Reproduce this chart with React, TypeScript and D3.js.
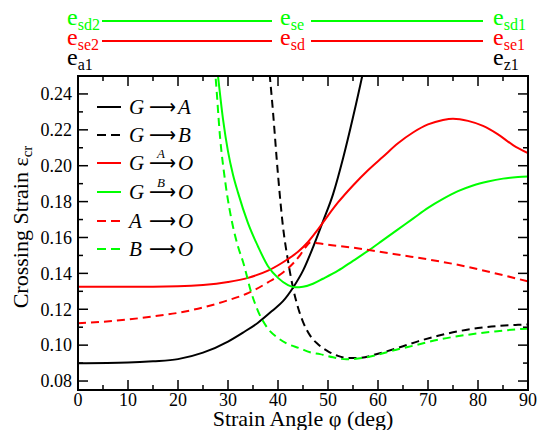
import React from 'react';
import * as d3 from 'd3';

const W = 546;
const H = 430;
const PLOT = { left: 78, right: 528, top: 76, bottom: 390 };
const X_DOMAIN = [0, 90];
const Y_DOMAIN = [0.075, 0.25];
const xMajorTicks = [0, 10, 20, 30, 40, 50, 60, 70, 80, 90];
const xMinorTicks = [5, 15, 25, 35, 45, 55, 65, 75, 85];
const yMajorTicks = [0.08, 0.1, 0.12, 0.14, 0.16, 0.18, 0.2, 0.22, 0.24];
const yMinorTicks = [0.09, 0.11, 0.13, 0.15, 0.17, 0.19, 0.21, 0.23, 0.25];

const RED = '#ff0000';
const GREEN = '#00ff00';
const BLACK = '#000000';

// G -> A (black solid)
const gaAngle = [0, 10, 15, 20, 25, 30, 33, 36, 39, 41, 43, 45, 47, 49, 51, 53, 55, 57, 59];
const gaValue = [0.0899, 0.0903, 0.091, 0.0922, 0.0958, 0.102, 0.107, 0.1125, 0.1195, 0.1245, 0.132, 0.1415, 0.1545, 0.169, 0.184, 0.204, 0.227, 0.252, 0.28];

// G -> B (black dashed)
const gbAngle = [37.5, 38, 39, 40, 41, 42, 43, 44, 45, 46.5, 48, 50, 52, 54, 56, 60, 64, 68, 72, 76, 80, 84, 88, 90];
const gbValue = [0.28, 0.262, 0.23, 0.195, 0.166, 0.147, 0.132, 0.121, 0.113, 0.105, 0.1005, 0.0965, 0.094, 0.0928, 0.0928, 0.0952, 0.0985, 0.1021, 0.1052, 0.1077, 0.1095, 0.1107, 0.1113, 0.1115];

// G -A-> O (red solid)
const gaoAngle = [0, 10, 20, 25, 30, 34, 38, 42, 44, 46, 48, 50, 52, 55, 58, 61, 64, 67, 70, 73, 75, 78, 81, 84, 87, 90];
const gaoValue = [0.1325, 0.1325, 0.1328, 0.1335, 0.1352, 0.1375, 0.1415, 0.148, 0.152, 0.1575, 0.1645, 0.1722, 0.1795, 0.189, 0.1975, 0.205, 0.2125, 0.2185, 0.223, 0.2255, 0.2262, 0.225, 0.2222, 0.2175, 0.2115, 0.207];

// G -B-> O (green solid)
const gboAngle = [27.2, 28, 29, 30, 31, 32, 34, 36, 38, 40, 42, 43.5, 45, 47, 49, 52, 55, 58, 61, 64, 67, 70, 73, 76, 79, 82, 85, 88, 90];
const gboValue = [0.27, 0.25, 0.226, 0.208, 0.195, 0.185, 0.168, 0.155, 0.144, 0.1375, 0.1335, 0.1322, 0.1325, 0.1342, 0.137, 0.1415, 0.147, 0.1525, 0.1585, 0.1645, 0.1705, 0.1765, 0.1815, 0.1858, 0.189, 0.1912, 0.1928, 0.1937, 0.194];

// A -> O (red dashed)
const aoAngle = [0, 5, 10, 15, 20, 25, 30, 34, 38, 41, 43, 44.5, 45.5, 46.5, 48, 50, 55, 60, 65, 70, 75, 80, 85, 90];
const aoValue = [0.1122, 0.113, 0.1143, 0.116, 0.118, 0.121, 0.125, 0.129, 0.135, 0.1405, 0.1455, 0.1505, 0.1545, 0.1572, 0.1568, 0.156, 0.1543, 0.1522, 0.15, 0.1478, 0.1453, 0.1423, 0.139, 0.1355];

// B -> O (green dashed)
const boAngle = [26.8, 27.5, 28.4, 29.5, 31, 32, 33, 34.7, 36, 37.7, 40, 41.7, 44.4, 46.4, 48.4, 51, 53.7, 56, 59.7, 63, 67.7, 72, 77.7, 83, 88.7, 90];
const boValue = [0.27, 0.25, 0.2163, 0.19, 0.166, 0.155, 0.1465, 0.1289, 0.119, 0.1103, 0.104, 0.101, 0.0982, 0.096, 0.095, 0.0932, 0.0921, 0.0925, 0.0945, 0.097, 0.1001, 0.103, 0.1057, 0.1075, 0.109, 0.1092];

const series = [
  { x: gaAngle, y: gaValue, color: BLACK, dash: null },
  { x: gbAngle, y: gbValue, color: BLACK, dash: '8,5' },
  { x: gaoAngle, y: gaoValue, color: RED, dash: null },
  { x: gboAngle, y: gboValue, color: GREEN, dash: null },
  { x: aoAngle, y: aoValue, color: RED, dash: '8,5' },
  { x: boAngle, y: boValue, color: GREEN, dash: '8,5' },
];

const legendFrom = ['G', 'G', 'G', 'G', 'A', 'B'];
const legendTo = ['A', 'B', 'O', 'O', 'O', 'O'];
const legendOver = ['', '', 'A', 'B', '', ''];
const legendColor = [BLACK, BLACK, RED, GREEN, RED, GREEN];
const legendDash = [null, '9,5', null, null, '9,5', '9,5'];
const legendRowY = [107, 135, 163, 192, 221, 249];

const topRows = [
  { y: 21, color: GREEN, left: 'sd2', mid: 'se', right: 'sd1', line: true },
  { y: 41, color: RED, left: 'se2', mid: 'sd', right: 'se1', line: true },
  { y: 61, color: BLACK, left: 'a1', mid: '', right: 'z1', line: false },
];

const SERIF = '"Liberation Serif", "Times New Roman", Times, serif';

export default function App() {
  const x = d3.scaleLinear().domain(X_DOMAIN).range([PLOT.left, PLOT.right]);
  const y = d3.scaleLinear().domain(Y_DOMAIN).range([PLOT.bottom, PLOT.top]);
  const line = d3
    .line<[number, number]>()
    .x((d) => x(d[0]))
    .y((d) => y(d[1]))
    .curve(d3.curveMonotoneX);

  const majorLen = 10;
  const minorLen = 5;
  const serif = { fontFamily: SERIF };

  return (
    <svg
      width={W}
      height={H}
      viewBox={`0 0 ${W} ${H}`}
      style={{ position: 'absolute', left: 0, top: 0, background: '#fff', fontFamily: SERIF }}
    >
      <defs>
        <clipPath id="plotclip">
          <rect x={PLOT.left} y={PLOT.top} width={PLOT.right - PLOT.left} height={PLOT.bottom - PLOT.top} />
        </clipPath>
      </defs>
      <rect x={0} y={0} width={W} height={H} fill="#fff" />

      {/* top annotation rows */}
      {topRows.map((r, i) => (
        <g key={i} fill={r.color}>
          <text x={67} y={r.y + 4} fontSize={24} style={serif}>
            e<tspan fontSize={16} dy={5}>{r.left}</tspan>
          </text>
          {r.mid && (
            <text x={280} y={r.y + 4} fontSize={24} style={serif}>
              e<tspan fontSize={16} dy={5}>{r.mid}</tspan>
            </text>
          )}
          <text x={493} y={r.y + 4} fontSize={24} style={serif}>
            e<tspan fontSize={16} dy={5}>{r.right}</tspan>
          </text>
          {r.line && (
            <>
              <line x1={102} x2={272} y1={r.y} y2={r.y} stroke={r.color} strokeWidth={2} />
              <line x1={311} x2={483} y1={r.y} y2={r.y} stroke={r.color} strokeWidth={2} />
            </>
          )}
        </g>
      ))}

      {/* curves */}
      <g clipPath="url(#plotclip)">
        {series.map((s, i) => (
          <path
            key={i}
            d={line(s.x.map((v, j) => [v, s.y[j]] as [number, number])) || ''}
            fill="none"
            stroke={s.color}
            strokeWidth={2}
            strokeDasharray={s.dash || undefined}
          />
        ))}
      </g>

      {/* frame */}
      <rect
        x={PLOT.left}
        y={PLOT.top}
        width={PLOT.right - PLOT.left}
        height={PLOT.bottom - PLOT.top}
        fill="none"
        stroke="#000"
        strokeWidth={2}
      />

      {/* x ticks */}
      {xMajorTicks.map((t) => (
        <g key={'xm' + t}>
          <line x1={x(t)} x2={x(t)} y1={PLOT.bottom} y2={PLOT.bottom - majorLen} stroke="#000" strokeWidth={1.5} />
          <line x1={x(t)} x2={x(t)} y1={PLOT.top} y2={PLOT.top + majorLen} stroke="#000" strokeWidth={1.5} />
          <text x={x(t)} y={406} fontSize={18} textAnchor="middle" style={serif}>
            {t}
          </text>
        </g>
      ))}
      {xMinorTicks.map((t) => (
        <g key={'xn' + t}>
          <line x1={x(t)} x2={x(t)} y1={PLOT.bottom} y2={PLOT.bottom - minorLen} stroke="#000" strokeWidth={1.5} />
          <line x1={x(t)} x2={x(t)} y1={PLOT.top} y2={PLOT.top + minorLen} stroke="#000" strokeWidth={1.5} />
        </g>
      ))}

      {/* y ticks */}
      {yMajorTicks.map((t) => (
        <g key={'ym' + t}>
          <line x1={PLOT.left} x2={PLOT.left + majorLen} y1={y(t)} y2={y(t)} stroke="#000" strokeWidth={1.5} />
          <line x1={PLOT.right} x2={PLOT.right - majorLen} y1={y(t)} y2={y(t)} stroke="#000" strokeWidth={1.5} />
          <text x={72} y={y(t)} dy="0.35em" fontSize={18} textAnchor="end" style={serif}>
            {d3.format('.2f')(t)}
          </text>
        </g>
      ))}
      {yMinorTicks.map((t) => (
        <g key={'yn' + t}>
          <line x1={PLOT.left} x2={PLOT.left + minorLen} y1={y(t)} y2={y(t)} stroke="#000" strokeWidth={1.5} />
          <line x1={PLOT.right} x2={PLOT.right - minorLen} y1={y(t)} y2={y(t)} stroke="#000" strokeWidth={1.5} />
        </g>
      ))}

      {/* axis titles */}
      <text x={(PLOT.left + PLOT.right) / 2} y={426} fontSize={22} textAnchor="middle" style={serif}>
        Strain Angle φ (deg)
      </text>
      <text
        transform={`translate(28, ${(PLOT.top + PLOT.bottom) / 2 - 6}) rotate(-90)`}
        fontSize={22}
        textAnchor="middle"
        style={serif}
      >
        Crossing Strain  ε<tspan fontSize={15} dy={4}>cr</tspan>
      </text>

      {/* legend */}
      {legendFrom.map((f, i) => {
        const ly = legendRowY[i];
        return (
          <g key={'lg' + i}>
            <line
              x1={97}
              x2={121}
              y1={ly}
              y2={ly}
              stroke={legendColor[i]}
              strokeWidth={2}
              strokeDasharray={legendDash[i] || undefined}
            />
            <text x={129} y={ly + 7} fontSize={21} fontStyle="italic" style={serif}>
              {f}
            </text>
            <text
              x={149}
              y={ly + 7}
              fontSize={21}
              textLength={27}
              lengthAdjust="spacingAndGlyphs"
              style={{ fontFamily: '"DejaVu Sans", sans-serif' }}
            >
              ⟶
            </text>
            {legendOver[i] && (
              <text x={161} y={ly - 5} fontSize={13} fontStyle="italic" textAnchor="middle" style={serif}>
                {legendOver[i]}
              </text>
            )}
            <text x={178} y={ly + 7} fontSize={21} fontStyle="italic" style={serif}>
              {legendTo[i]}
            </text>
          </g>
        );
      })}
    </svg>
  );
}
